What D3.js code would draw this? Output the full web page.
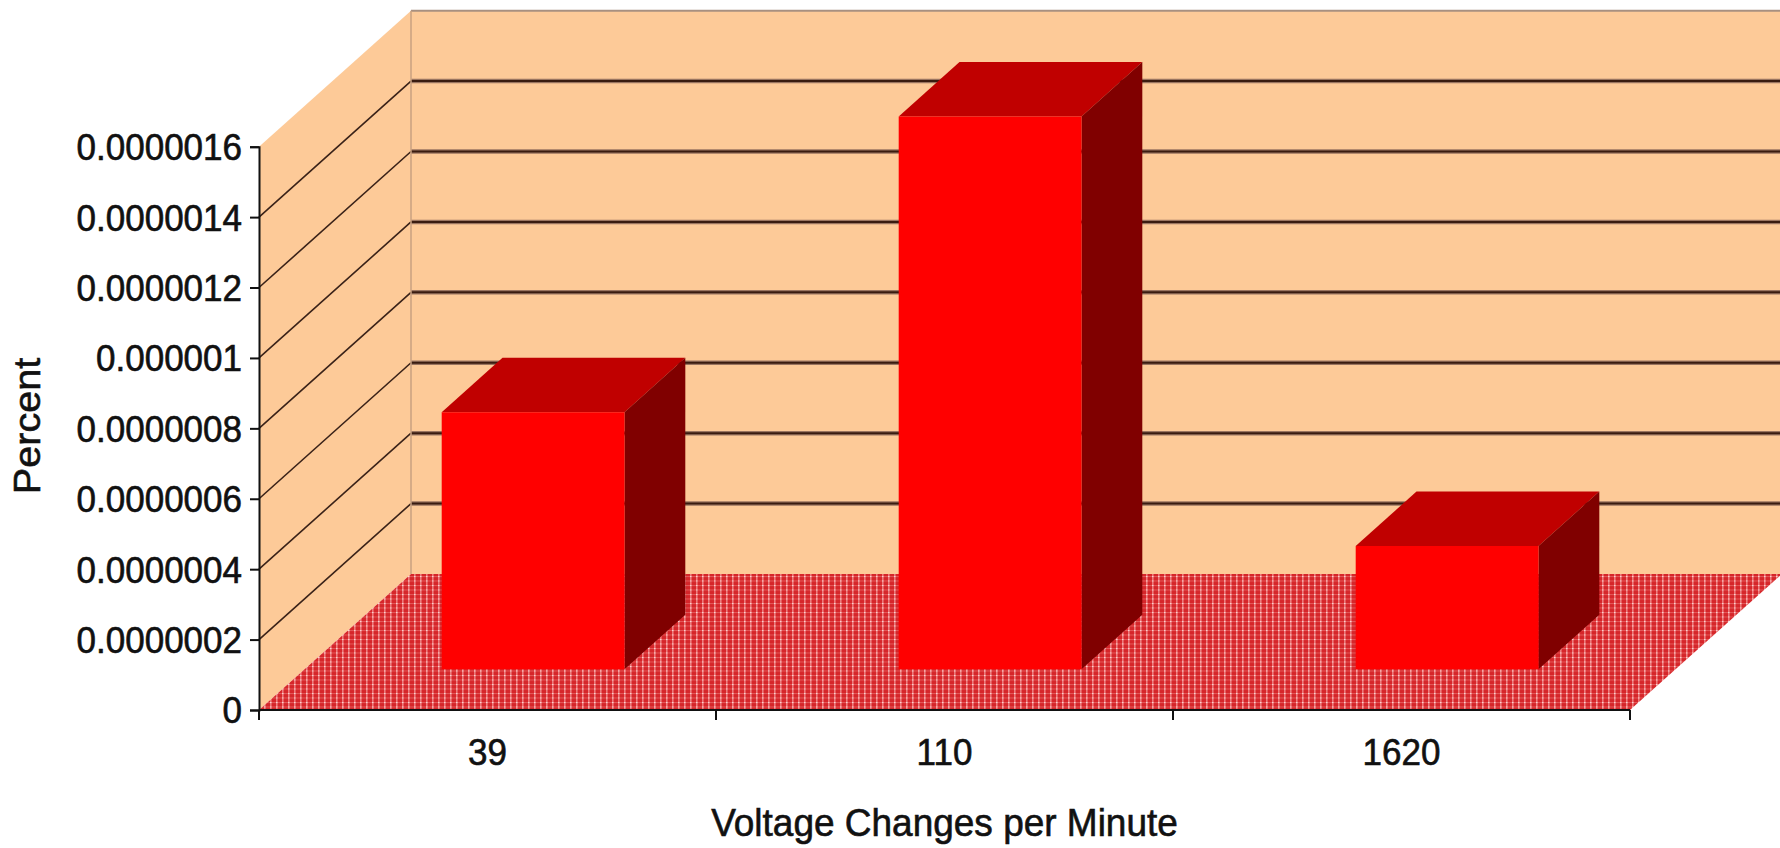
<!DOCTYPE html>
<html>
<head>
<meta charset="utf-8">
<script src="https://cdn.jsdelivr.net/npm/d3@7/dist/d3.min.js"></script>
<style>
  html, body { margin: 0; padding: 0; background: #ffffff; }
  svg { display: block; }
  text { font-family: "Liberation Sans", Arial, sans-serif; fill: #111; stroke: #111; stroke-width: 0.6px; }
</style>
</head>
<body>
<svg id="chart" width="1780" height="848"></svg>
<script>
// Voltage changes per minute vs. percent
const categories = ["39", "110", "1620"];
const values = [7.3e-7, 1.57e-6, 3.5e-7];
const yTickValues = [0, 2e-7, 4e-7, 6e-7, 8e-7, 1e-6, 1.2e-6, 1.4e-6, 1.6e-6];
const yTickLabels = ["0", "0.0000002", "0.0000004", "0.0000006", "0.0000008",
                     "0.000001", "0.0000012", "0.0000014", "0.0000016"];
const xTitle = "Voltage Changes per Minute";
const yTitle = "Percent";

// plot geometry
const left = 259, right = 1630;
const baseY = 710, topY = 146.7;
const depthX = 152, depthY = 136;          // oblique offset of the full depth
const barDepth0 = 0.3, barDepth1 = 0.7;    // bar occupies this slice of the depth
const textStretch = 1.07;

const svg = d3.select("#chart");

const x = d3.scaleBand()
  .domain(categories)
  .range([left, right])
  .paddingInner(0.6)
  .paddingOuter(0.3);

const y = d3.scaleLinear()
  .domain([0, yTickValues[yTickValues.length - 1]])
  .range([baseY, topY]);

// project a point given a depth fraction t (0 = front, 1 = back wall)
const P = (px, py, t) => [px + depthX * t, py - depthY * t];

// floor texture
const defs = svg.append("defs");
const pat = defs.append("pattern")
  .attr("id", "floorPat")
  .attr("patternUnits", "userSpaceOnUse")
  .attr("width", 6).attr("height", 4.5);
pat.append("rect").attr("width", 6).attr("height", 4.5).attr("fill", "#d6262a");
pat.append("rect").attr("x", 0).attr("y", 0).attr("width", 1.6).attr("height", 4.5).attr("fill", "#ee7c7c");
pat.append("rect").attr("x", 0).attr("y", 0).attr("width", 6).attr("height", 1).attr("fill", "#e35a5a");
pat.append("rect").attr("x", 0).attr("y", 0).attr("width", 1.6).attr("height", 1).attr("fill", "#ffd2d2");

const wallColor = "#fdca98";
const y0 = y(0), yMax = y(yTickValues[yTickValues.length - 1]);

// side wall
svg.append("polygon")
  .attr("points", [[left, y0], [left, yMax], P(left, yMax, 1), P(left, y0, 1)].join(" "))
  .attr("fill", wallColor);

// back wall
const backLeft = P(left, 0, 1)[0];
svg.append("rect")
  .attr("x", backLeft).attr("y", yMax - depthY)
  .attr("width", 1800 - backLeft).attr("height", y0 - yMax)
  .attr("fill", wallColor);

// gridlines on back and side walls
const inner = yTickValues.slice(1, -1);
svg.append("g").selectAll("line").data(inner).join("line")
  .attr("x1", backLeft).attr("x2", 1800)
  .attr("y1", d => y(d) - depthY).attr("y2", d => y(d) - depthY)
  .attr("stroke", "#9a7560").attr("stroke-width", 4.5);
svg.append("g").selectAll("line").data(inner).join("line")
  .attr("x1", backLeft).attr("x2", 1800)
  .attr("y1", d => y(d) - depthY).attr("y2", d => y(d) - depthY)
  .attr("stroke", "#3a1c10").attr("stroke-width", 2);
svg.append("g").selectAll("line").data(inner).join("line")
  .attr("x1", left).attr("y1", d => y(d))
  .attr("x2", left + depthX).attr("y2", d => y(d) - depthY)
  .attr("stroke", "#3a2218").attr("stroke-width", 1.6);

// wall borders
svg.append("line")
  .attr("x1", backLeft).attr("x2", 1800)
  .attr("y1", yMax - depthY).attr("y2", yMax - depthY)
  .attr("stroke", "#a89080").attr("stroke-width", 2);
svg.append("line")
  .attr("x1", backLeft).attr("x2", backLeft)
  .attr("y1", yMax - depthY).attr("y2", y0 - depthY)
  .attr("stroke", "#c8a080").attr("stroke-width", 1.5);

// floor
svg.append("polygon")
  .attr("points", [[left, y0], [right, y0], P(right, y0, 1), P(left, y0, 1)].join(" "))
  .attr("fill", "url(#floorPat)");

// bars: front, top and side faces
const bars = svg.append("g").selectAll("g").data(categories.map((c, i) => ({ c, v: values[i] })))
  .join("g");

bars.append("polygon") // top
  .attr("fill", "#c00000")
  .attr("points", d => {
    const x0 = x(d.c), x1 = x(d.c) + x.bandwidth(), yt = y(d.v);
    return [P(x0, yt, barDepth0), P(x1, yt, barDepth0), P(x1, yt, barDepth1), P(x0, yt, barDepth1)].join(" ");
  });
bars.append("polygon") // side
  .attr("fill", "#800000")
  .attr("points", d => {
    const x1 = x(d.c) + x.bandwidth(), yt = y(d.v);
    return [P(x1, yt, barDepth0), P(x1, y0, barDepth0), P(x1, y0, barDepth1), P(x1, yt, barDepth1)].join(" ");
  });
bars.append("polygon") // front
  .attr("fill", "#ff0000")
  .attr("points", d => {
    const x0 = x(d.c), x1 = x(d.c) + x.bandwidth(), yt = y(d.v);
    return [P(x0, yt, barDepth0), P(x1, yt, barDepth0), P(x1, y0, barDepth0), P(x0, y0, barDepth0)].join(" ");
  });

// value axis
const yAxis = d3.axisLeft(y)
  .tickValues(yTickValues)
  .tickSize(9)
  .tickFormat((d, i) => yTickLabels[i]);
const gy = svg.append("g").attr("transform", `translate(${left},0)`).call(yAxis);
gy.select(".domain").attr("stroke", "#111").attr("stroke-width", 2);
gy.selectAll(".tick line").attr("stroke", "#111").attr("stroke-width", 2);
gy.selectAll(".tick text").remove();
svg.append("g").selectAll("text").data(yTickValues).join("text")
  .attr("transform", d => `translate(${left - 17},${y(d)}) scale(1,${textStretch})`)
  .attr("text-anchor", "end")
  .attr("dy", "0.36em")
  .style("font-size", "35px")
  .text((d, i) => yTickLabels[i]);

// category axis along the front edge of the floor
const step = x.step();
const boundaries = d3.range(categories.length + 1).map(i => left + i * step);
svg.append("line")
  .attr("x1", left).attr("x2", right).attr("y1", y0).attr("y2", y0)
  .attr("stroke", "#111").attr("stroke-width", 2);
svg.append("g").selectAll("line").data(boundaries).join("line")
  .attr("x1", d => d).attr("x2", d => d)
  .attr("y1", y0).attr("y2", y0 + 10)
  .attr("stroke", "#111").attr("stroke-width", 2);
svg.append("g").selectAll("text").data(categories).join("text")
  .attr("transform", (d, i) => `translate(${left + (i + 0.5) * step},765) scale(1,${textStretch})`)
  .attr("text-anchor", "middle")
  .style("font-size", "35px")
  .text(d => d);

// axis titles
svg.append("text")
  .attr("transform", `translate(${(left + right) / 2},836) scale(1,${textStretch})`)
  .attr("text-anchor", "middle")
  .style("font-size", "37px")
  .text(xTitle);
svg.append("text")
  .attr("transform", `translate(40,426) scale(1,${textStretch}) rotate(-90)`)
  .attr("text-anchor", "middle")
  .style("font-size", "37px")
  .text(yTitle);
</script>
</body>
</html>
